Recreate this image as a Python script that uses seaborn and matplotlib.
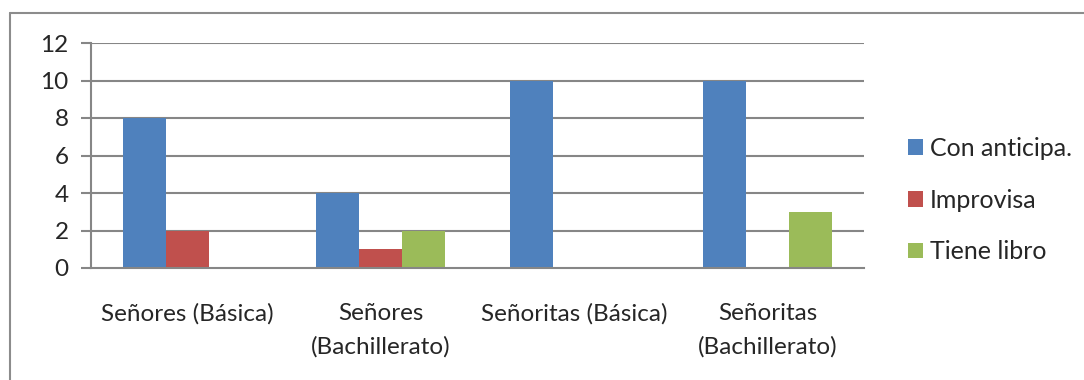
import matplotlib
matplotlib.use("Agg")
import matplotlib.pyplot as plt
from matplotlib.lines import Line2D
import seaborn as sns
import pandas as pd

categories = ["Señores (Básica)", "Señores\n(Bachillerato)",
              "Señoritas (Básica)", "Señoritas\n(Bachillerato)"]
series_names = ["Con anticipa.", "Improvisa", "Tiene libro"]
con_anticipa = [8, 4, 10, 10]
improvisa = [2, 1, 0, 0]
tiene_libro = [0, 2, 0, 3]
colors = ["#4F81BD", "#C0504D", "#9BBB59"]
y_ticks = [0, 2, 4, 6, 8, 10, 12]

rows = []
for name, vals in zip(series_names, [con_anticipa, improvisa, tiene_libro]):
    for cat, v in zip(categories, vals):
        rows.append({"categoria": cat, "serie": name, "valor": v})
df = pd.DataFrame(rows)

sns.set_style("white")
plt.rcParams["font.family"] = ["Lato", "DejaVu Sans"]

W, H = 1084, 380
fig = plt.figure(figsize=(W / 100, H / 100), dpi=100)
ax = fig.add_axes([91 / W, 1 - 268 / H, (864 - 91) / W, (268 - 43) / H])

grid_col = "#868686"
for t in y_ticks[1:]:
    ax.axhline(t, color=grid_col, lw=1.5, zorder=0)

sns.barplot(data=df, x="categoria", y="valor", hue="serie",
            order=categories, hue_order=series_names,
            palette=colors, saturation=1, width=3 / 4.5,
            linewidth=0, ax=ax, zorder=2)

ax.set_xlim(-0.5, 3.5)
ax.set_ylim(0, 12)
ax.set_yticks(y_ticks)
ax.set_yticklabels([str(t) for t in y_ticks])
ax.set_xlabel("")
ax.set_ylabel("")

fs = 17.5
# category labels centred, ticks on category boundaries
ax.set_xticks(range(len(categories)))
ax.set_xticklabels(categories, linespacing=1.7)
ax.set_xticks([i - 0.5 for i in range(len(categories) + 1)], minor=True)
ax.tick_params(axis="x", which="major", length=0, pad=25, labelsize=fs)
ax.tick_params(axis="x", which="minor", length=7, width=1.5, color=grid_col)
ax.tick_params(axis="y", length=7, width=1.5, color=grid_col, pad=9,
               labelsize=fs, left=True)

for s in ["top", "right"]:
    ax.spines[s].set_visible(False)
for s in ["left", "bottom"]:
    ax.spines[s].set_color(grid_col)
    ax.spines[s].set_linewidth(1.5)

handles, labels = ax.get_legend_handles_labels()
leg = ax.legend(handles, labels, loc="center left",
                bbox_to_anchor=(898 / W, 1 - 200 / H),
                bbox_transform=fig.transFigure, frameon=False,
                fontsize=18, handlelength=0.6, handleheight=0.6,
                handletextpad=0.29, labelspacing=1.15, borderaxespad=0)

# chart frame
frame_col = "#8C8C8C"
fig.add_artist(Line2D([10 / W, 1], [1 - 13 / H, 1 - 13 / H],
                      transform=fig.transFigure, color=frame_col, lw=1.5))
fig.add_artist(Line2D([10 / W, 10 / W], [0, 1 - 13 / H],
                      transform=fig.transFigure, color=frame_col, lw=1.5))

fig.savefig("out.png", dpi=100)
